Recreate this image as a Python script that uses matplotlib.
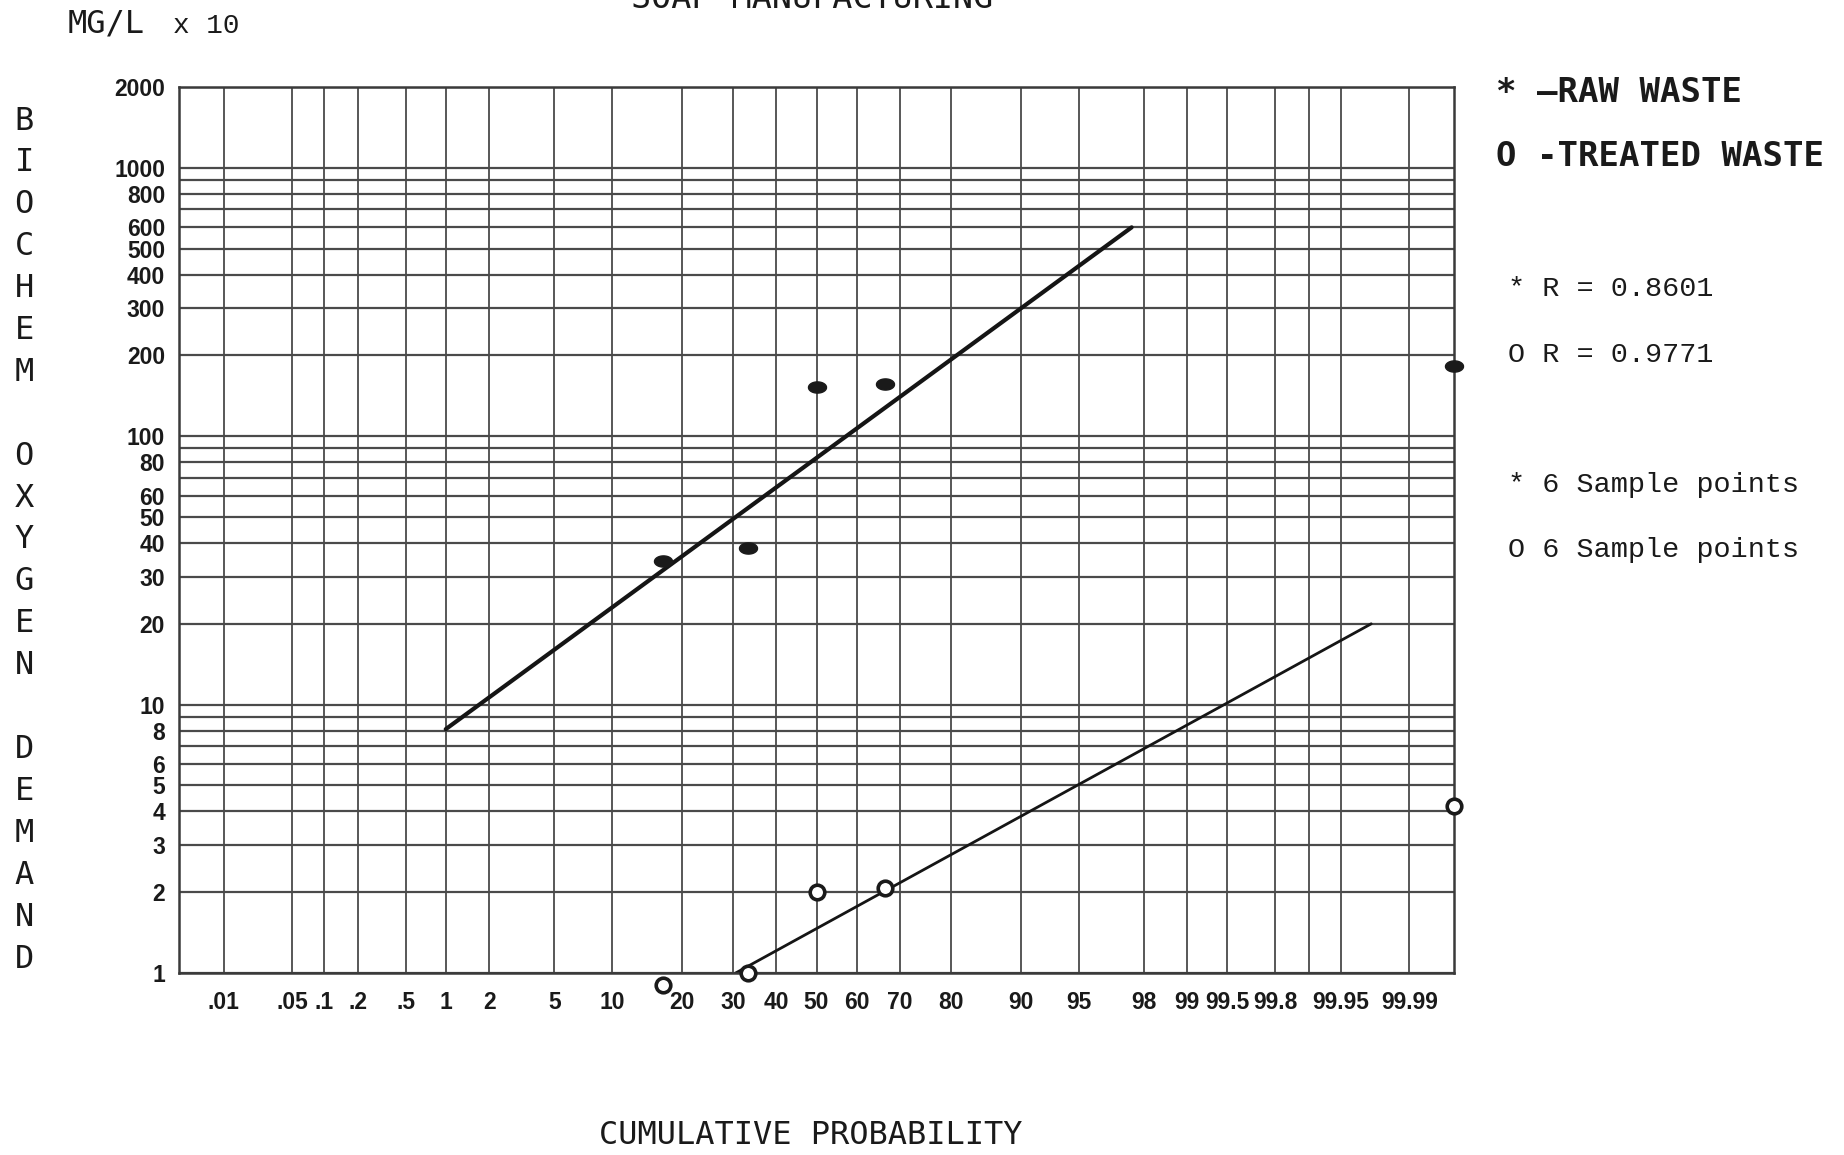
import math
import numpy as np
import matplotlib
matplotlib.use("Agg")
import matplotlib.pyplot as plt

# ---------------- data ----------------
prob_ticks = [0.01, 0.05, 0.1, 0.2, 0.5, 1, 2, 5, 10, 20, 30, 40, 50, 60, 70,
              80, 90, 95, 98, 99, 99.5, 99.8, 99.95, 99.99]
prob_tick_labels = ['.01', '.05', '.1', '.2', '.5', '1', '2', '5', '10', '20',
                    '30', '40', '50', '60', '70', '80', '90', '95', '98', '99',
                    '99.5', '99.8', '99.95', '99.99']
prob_minor = [99.9]
bod_ticks = [1, 2, 3, 4, 5, 6, 8, 10, 20, 30, 40, 50, 60, 80, 100, 200, 300,
             400, 500, 600, 800, 1000, 2000]
bod_tick_labels = [str(v) for v in bod_ticks]
bod_minor = [7, 9, 70, 90, 700, 900]

raw_prob = [16.7, 33.3, 50.0, 66.7, 100.0]
raw_bod = [34.4, 38.3, 153, 156, 183]
treated_prob = [16.7, 33.3, 50.0, 66.7, 100.0]
treated_bod = [0.9, 1.0, 2.0, 2.07, 4.2]

raw_fit_prob = [1.0, 97.6]
raw_fit_bod = [8.1, 600]
treated_fit_prob = [30.6, 99.975]
treated_fit_bod = [1.0, 20.0]

title = "SOAP MANUFACTURING"
units = "MG/L"
units_mult = "x 10"
ylabel = "BIOCHEM OXYGEN DEMAND"
xlabel = "CUMULATIVE PROBABILITY"
legend_head = ["* \u2014RAW WASTE", "O -TREATED WASTE"]
legend_notes = ["* R = 0.8601", "O R = 0.9771", "* 6 Sample points", "O 6 Sample points"]

# ---------------- normal probability scale ----------------
_a = [-3.969683028665376e+01, 2.209460984245205e+02, -2.759285104469687e+02,
      1.383577518672690e+02, -3.066479806614716e+01, 2.506628277459239e+00]
_b = [-5.447609879822406e+01, 1.615858368580409e+02, -1.556989798598866e+02,
      6.680131188771972e+01, -1.328068155288572e+01]
_c = [-7.784894002430293e-03, -3.223964580411365e-01, -2.400758277161838e+00,
      -2.549732539343734e+00, 4.374664141464968e+00, 2.938163982698783e+00]
_d = [7.784695709041462e-03, 3.224671290700398e-01, 2.445134137142996e+00,
      3.754408661907416e+00]


def _ppf(p):
    p = np.asarray(p, dtype=float)
    shape = p.shape
    p = np.atleast_1d(p).ravel()
    out = np.full(p.shape, np.nan)
    plow = 0.02425
    lo = p < plow
    hi = p > 1 - plow
    mid = ~(lo | hi)
    if lo.any():
        q = np.sqrt(-2 * np.log(p[lo]))
        out[lo] = (((((_c[0]*q+_c[1])*q+_c[2])*q+_c[3])*q+_c[4])*q+_c[5]) / \
                  ((((_d[0]*q+_d[1])*q+_d[2])*q+_d[3])*q+1)
    if mid.any():
        q = p[mid] - 0.5
        r = q * q
        out[mid] = (((((_a[0]*r+_a[1])*r+_a[2])*r+_a[3])*r+_a[4])*r+_a[5])*q / \
                   (((((_b[0]*r+_b[1])*r+_b[2])*r+_b[3])*r+_b[4])*r+1)
    if hi.any():
        q = np.sqrt(-2 * np.log(1 - p[hi]))
        out[hi] = -(((((_c[0]*q+_c[1])*q+_c[2])*q+_c[3])*q+_c[4])*q+_c[5]) / \
                   ((((_d[0]*q+_d[1])*q+_d[2])*q+_d[3])*q+1)
    return out.reshape(shape)


ZMAX = 4.0
P_MIN = 0.5 * math.erfc(ZMAX / math.sqrt(2))
P_MAX = 1 - P_MIN
_erf = np.vectorize(math.erf, otypes=[float])


def forward(x):
    p = np.clip(np.asarray(x, dtype=float) / 100.0, P_MIN, P_MAX)
    return _ppf(p)


def inverse(z):
    z = np.asarray(z, dtype=float)
    return 50.0 * (1 + _erf(z / math.sqrt(2)))


# ---------------- figure ----------------
W, H = 1844, 1155
fig = plt.figure(figsize=(W / 100, H / 100), dpi=100, facecolor="white")
L, R, T, B = 179, 1454, 87, 973
ax = fig.add_axes([L / W, 1 - B / H, (R - L) / W, (B - T) / H])

ax.set_xscale("function", functions=(forward, inverse))
ax.set_yscale("log")
ax.set_xlim(100 * P_MIN, 100 * P_MAX)
ax.set_ylim(1, 2000)

grid_c = "#4a4a4a"
tick_font = dict(family=["Liberation Sans", "DejaVu Sans"], weight="bold", size=16.5)

ax.set_xticks(prob_ticks)
ax.set_xticklabels(prob_tick_labels, fontdict=tick_font)
ax.set_xticks(prob_minor, minor=True)
ax.set_yticks(bod_ticks)
ax.set_yticklabels(bod_tick_labels, fontdict=tick_font)
ax.set_yticks(bod_minor, minor=True)
ax.yaxis.set_minor_formatter(matplotlib.ticker.NullFormatter())
ax.xaxis.set_minor_formatter(matplotlib.ticker.NullFormatter())
ax.tick_params(axis="both", which="both", length=0, colors="#1a1a1a")
ax.tick_params(axis="x", pad=13)
ax.tick_params(axis="y", pad=10)

ax.grid(True, axis="x", which="both", color=grid_c, lw=1.3)
ax.grid(True, axis="y", which="both", color=grid_c, lw=1.6)
ax.set_axisbelow(True)
for s in ax.spines.values():
    s.set_color("#3a3a3a")
    s.set_linewidth(1.8)

# fit lines
ax.plot(raw_fit_prob, raw_fit_bod, color="#151515", lw=3.0, solid_capstyle="round")
ax.plot(treated_fit_prob, treated_fit_bod, color="#151515", lw=2.0, solid_capstyle="round")

# markers
t = np.linspace(0, 2 * np.pi, 40)
blob = list(zip(np.cos(t), 0.62 * np.sin(t)))
ax.plot(raw_prob, raw_bod, linestyle="none", marker=blob, ms=13,
        color="#1a1a1a", clip_on=False, zorder=5)
ax.plot(treated_prob, treated_bod, linestyle="none", marker="o", ms=10.5,
        mfc="white", mec="#1a1a1a", mew=2.6, clip_on=False, zorder=5)


def fpos(x, y):
    return x / W, 1 - y / H


mono = "DejaVu Sans Mono"
courier = "Liberation Mono"
ink = "#1a1a1a"

# title (cut at the top edge, as in the scanned original)
fig.text(*fpos(812, 8), title, family=mono, size=24, color=ink,
         ha="center", va="baseline")
# units
fig.text(*fpos(68, 24), units, family=mono, size=23, color=ink, ha="left", va="center")
fig.text(*fpos(173, 26), units_mult, family=courier, size=20, color=ink, ha="left", va="center")

# vertical stacked y label
for i, ch in enumerate(ylabel):
    if ch != " ":
        fig.text(*fpos(24, 121 + i * 41.9), ch, family=mono, size=23, color=ink,
                 ha="center", va="center")

# x label
fig.text(*fpos(811, 1135), xlabel, family=mono, size=23, color=ink,
         ha="center", va="center")

# legend block
for txt, y in zip(legend_head, [92, 156]):
    fig.text(*fpos(1496, y), txt, family=mono, weight="bold", size=24.5, color=ink,
             ha="left", va="center")
for txt, y in zip(legend_notes, [289, 355, 485, 550]):
    fig.text(*fpos(1508, y), txt, family=courier, size=20.5, color=ink,
             ha="left", va="center")

fig.savefig("out.png", dpi=100, facecolor="white")
